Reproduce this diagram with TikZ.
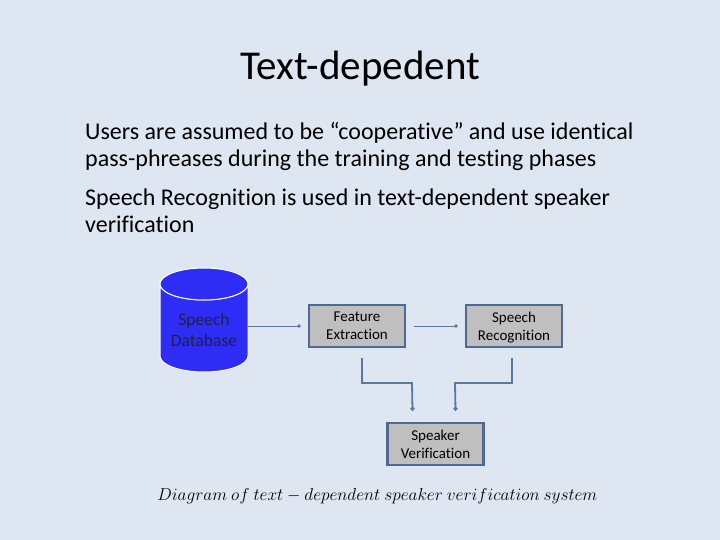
\documentclass[tikz,border=0pt]{standalone}
\usepackage{fontspec}
\setmainfont{Carlito}[Ligatures={NoCommon}]
\usetikzlibrary{shapes.geometric,arrows.meta}
\definecolor{bg}{RGB}{222,230,242}
\definecolor{boxfill}{RGB}{191,191,191}
\definecolor{boxline}{RGB}{80,106,143}
\definecolor{cylfill}{RGB}{45,45,245}
\definecolor{cyltext}{RGB}{30,30,80}
\definecolor{lnk}{RGB}{90,120,160}
\tikzset{
  procbox/.style={draw=boxline, line width=2.4pt, fill=boxfill, minimum width=96pt, minimum height=42pt, align=center, font=\fontsize{15}{18}\selectfont, inner sep=0pt, text depth=0pt},
  link/.style={draw=lnk, line width=0.9pt, -{Circle[length=3.5pt]}},
  blink/.style={draw=lnk, line width=1.8pt, -{Circle[length=4pt]}}
}
\begin{document}
\begin{tikzpicture}[x=1pt,y=-1pt]
\fill[bg] (0,0) rectangle (720,540);
\useasboundingbox (0,0) rectangle (720,540);
\node[anchor=base, font=\fontsize{41}{48}\selectfont] (title) at (360,80) {Text-depedent};
\node[anchor=base west, align=left, font=\fontsize{24}{27}\selectfont, inner sep=0pt] (p1) at (85,167) {Users are assumed to be “cooperative” and use identical\\pass-phreases during the training and testing phases};
\node[anchor=base west, align=left, font=\fontsize{24}{27}\selectfont, inner sep=0pt] (p2) at (85,233) {Speech Recognition is used in text-dependent speaker\\verification};
% cylinder
\draw[white, line width=1pt, fill=cylfill] (160,284) -- (160,356) arc[start angle=180, end angle=0, x radius=44, y radius=16] -- (248,284) arc[start angle=0, end angle=180, x radius=44, y radius=16] -- cycle;
\draw[white, line width=1pt, fill=cylfill] (204,284) ellipse[x radius=44, y radius=16];
\node[font=\fontsize{17.5}{21}\selectfont, text=cyltext, align=center] (db) at (204,330) {Speech\\Database};
\coordinate (dbr) at (248,326);
\node[procbox] (fe) at (357,326) {Feature\\Extraction};
\node[procbox] (sr) at (514,326) {Speech\\Recognition};
\node[procbox] (sv) at (435.5,444) {Speaker\\Verification};
\draw[link] (dbr) -- ([xshift=-7pt]fe.west);
\draw[link] ([xshift=8pt]fe.east) -- ([xshift=-7pt]sr.west);
\draw[blink] ([xshift=5pt,yshift=-10pt]fe.south) |- (412,383) -- ([xshift=-23pt,yshift=11pt]sv.north);
\draw[blink] ([xshift=-2pt,yshift=-10pt]sr.south) |- (455,383) -- ([xshift=20pt,yshift=11pt]sv.north);
\node[anchor=base, font=\fontsize{18.2}{22}\selectfont] (cap) at (377.5,500) {$Diagram\ of\ text-dependent\ speaker\ verification\ system$};
\end{tikzpicture}
\end{document}
